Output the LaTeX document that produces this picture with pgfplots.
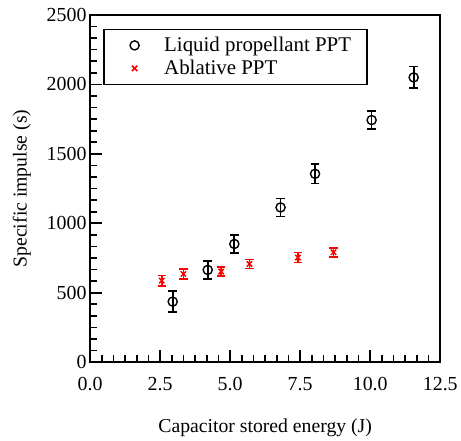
\documentclass[border=0pt]{standalone}
\usepackage{fontspec}
\setmainfont{Liberation Serif}
\usepackage{pgfplots}
\pgfplotsset{compat=1.18}
\pgfplotsset{mylegend/.style={legend image code/.code={\path (0pt,0pt) (43pt,0pt); \draw[##1] plot coordinates {(16pt,0pt)};}}}
\begin{document}
\begin{tikzpicture}
\begin{axis}[
  name=ax,
  scale only axis,
  width=352pt, height=349pt,
  xmin=0, xmax=12.5, ymin=0, ymax=2500,
  xtick={0,2.5,5,7.5,10,12.5},
  ytick={0,500,1000,1500,2000,2500},
  minor tick num=5,
  tick pos=left,
  tick align=inside,
  major tick length=12pt,
  minor tick length=7pt,
  every tick/.style={black, line width=1.7pt},
  axis line style={line width=1.7pt},
  /pgf/number format/assume math mode=true,
  xticklabel style={/pgf/number format/fixed, /pgf/number format/fixed zerofill, /pgf/number format/precision=1, yshift=-12pt},
  yticklabel style={/pgf/number format/fixed, /pgf/number format/1000 sep={}},
  ticklabel style={font=\fontsize{20}{22}\selectfont},
  xlabel={Capacitor stored energy (J)},
  ylabel={Specific impulse (s)},
  xlabel style={font=\fontsize{19.8}{22}\selectfont, yshift=-21pt},
  ylabel style={font=\fontsize{19.8}{22}\selectfont, yshift=9pt},
  legend style={at={(0.038,0.96)}, anchor=north west, draw=black, line width=1.3pt,
    font=\fontsize{21}{24}\selectfont, inner xsep=14pt, inner ysep=6pt,
    row sep=3pt},
  legend cell align=left,
]
\addplot[only marks, black, mark=o, mark size=4.6pt, line width=1.4pt, mylegend,
  error bars/.cd, y dir=both, y explicit,
  error bar style={line width=1.7pt}, error mark options={rotate=90, mark size=4.3pt, line width=1.7pt}]
coordinates {
 (2.95,436) +- (0,75)
 (4.2,664) +- (0,63)
 (5.15,851) +- (0,67)
 (6.8,1114) +- (0,65)
 (8.03,1356) +- (0,70)
 (10.05,1743) +- (0,63)
 (11.55,2050) +- (0,78)
};
\addlegendentry{Liquid propellant PPT}
\addplot[only marks, red, mark=x, mark size=3.8pt, line width=1.5pt, mylegend,
  error bars/.cd, y dir=both, y explicit,
  error bar style={line width=1.7pt}, error mark options={rotate=90, mark size=4.2pt, line width=1.7pt}]
coordinates {
 (2.56,587) +- (0,38)
 (3.33,635) +- (0,36)
 (4.68,652) +- (0,32)
 (5.69,707) +- (0,32)
 (7.42,753) +- (0,36)
 (8.69,791) +- (0,32)
};
\addlegendentry{Ablative PPT}
\end{axis}
\path ([xshift=-90.5pt,yshift=15pt]ax.north west) rectangle ([xshift=18.5pt,yshift=-73pt]ax.south east);
\end{tikzpicture}
\end{document}
